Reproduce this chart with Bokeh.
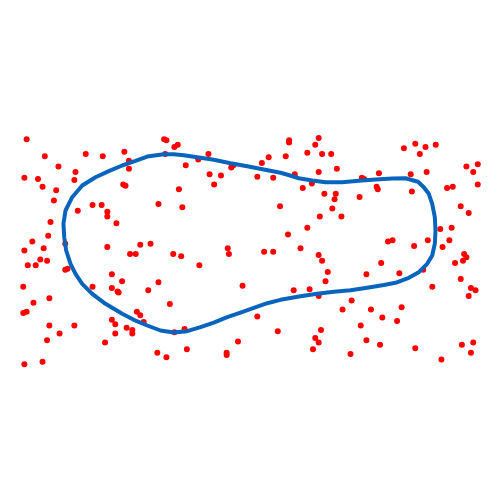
from bokeh.plotting import figure
from bokeh.models import Range1d
from bokeh.embed import file_html
from bokeh.resources import INLINE

pts_x = [-1.97, -1.81, -1.69, -1.45, -1.30, -1.11, -1.07, -1.07, -0.76, -0.74,
         -0.67, -0.64, -0.75, -1.99, -1.87, -1.54, -1.55, -1.83, -1.71, -1.12,
         -1.10, -0.63, -1.73, -1.52, -1.39, -1.31, -1.26, -1.26, -1.18, -0.81,
         -1.76, -1.78, -1.92, -1.99, -1.82, -1.63, -1.26, -0.97, -0.88, -1.06,
         -1.01, -0.68,
         -0.37, -0.46, -0.57, -0.36, -0.26, -0.32, -0.17, -0.15, -0.60, 0.34,
         0.34, 0.60, 0.57, 0.50, 0.63, 0.71, 0.31, 0.16, 0.10, 0.06,
         0.20, 0.39, 0.60, 0.76, 0.46, 0.54, 0.65, 0.75, 0.74, 0.72,
         0.80, 0.61, 0.26, 0.50, 0.33, 0.44, -0.20, -0.19, 0.12, 0.20,
         0.60, -0.61,
         1.45, 1.35, 1.54, 1.63, 1.49, 1.13, 0.98, 1.00, 1.41, 1.55,
         1.90, 2.00, 1.96, 2.00, 1.73, 1.78, 1.11, 1.12, 1.42, 0.96,
         1.85, 1.92, 1.67, 1.77, 1.75, 1.69, 1.56, 1.44, 1.21, 1.25,
         1.88,
         -1.96, -1.89, -1.85, -1.79, -1.63, -1.61, -2.00, -1.77, -1.91, -2.00,
         -1.97, -1.77, -1.68, -1.79, -1.55, -1.99, -1.83, -1.39, -1.22, -1.13,
         -1.22, -1.17, -1.16, -0.90, -0.81, -0.71, -1.00, -0.97, -0.94, -1.22,
         -1.19, -1.09, -1.04, -1.04, -1.19, -1.28, -0.67, -0.82, -0.74,
         -0.45, 0.63, 0.68, 0.66, 0.52, 0.38, 0.60, -0.07, 0.81, 0.06,
         -0.58, -0.56, -0.11, -0.21, -0.21, 0.24, 0.62, 0.57, 0.60, 0.55,
         1.15, 1.02, 1.31, 1.52, 1.60, 1.90, 1.87, 1.80, 1.85, 1.94,
         1.98, 1.92, 0.89, 1.06, 1.33, 1.16, 1.29, 0.97, 1.02, 1.14,
         1.45, 0.88, 1.68, 1.86, 1.96, 1.94]

pts_y = [0.98, 0.83, 0.74, 0.85, 0.83, 0.87, 0.79, 0.72, 0.98, 0.97,
         0.91, 0.93, 0.85, 0.64, 0.63, 0.69, 0.62, 0.56, 0.53, 0.58,
         0.57, 0.54, 0.44, 0.35, 0.40, 0.40, 0.34, 0.30, 0.24, 0.41,
         0.25, 0.13, 0.08, 0.00, 0.02, 0.06, 0.03, 0.05, 0.06, -0.03,
         -0.03, -0.03,
         0.85, 0.80, 0.75, 0.67, 0.66, 0.58, 0.73, 0.75, 0.38, 0.97,
         0.95, 0.99, 0.93, 0.86, 0.85, 0.85, 0.83, 0.82, 0.77, 0.65,
         0.64, 0.67, 0.69, 0.72, 0.55, 0.59, 0.50, 0.50, 0.45, 0.37,
         0.30, 0.30, 0.39, 0.20, 0.14, 0.02, 0.02, -0.03, -0.01, -0.01,
         -0.04, -0.05,
         0.94, 0.90, 0.91, 0.93, 0.85, 0.68, 0.64, 0.63, 0.67, 0.69,
         0.74, 0.76, 0.69, 0.58, 0.55, 0.56, 0.56, 0.54, 0.52, 0.47,
         0.39, 0.33, 0.19, 0.20, 0.09, 0.03, 0.09, 0.04, 0.08, 0.09,
         -0.03,
         -0.13, -0.13, -0.08, -0.09, -0.17, -0.16, -0.32, -0.42, -0.46, -0.55,
         -0.54, -0.66, -0.73, -0.79, -0.66, -1.00, -0.98, -0.32, -0.21, -0.27,
         -0.33, -0.36, -0.37, -0.35, -0.28, -0.47, -0.54, -0.57, -0.63, -0.61,
         -0.65, -0.68, -0.70, -0.73, -0.73, -0.81, -0.72, -0.90, -0.94,
         -0.13, -0.09, -0.19, -0.27, -0.34, -0.35, -0.40, -0.31, -0.52, -0.58,
         -0.69, -0.87, -0.80, -0.90, -0.92, -0.71, -0.70, -0.77, -0.81, -0.87,
         -0.11, -0.21, -0.20, -0.17, -0.32, -0.06, -0.09, -0.11, -0.25, -0.33,
         -0.35, -0.40, -0.44, -0.52, -0.50, -0.59, -0.62, -0.66, -0.79, -0.83,
         -0.86, -0.91, -0.96, -0.83, -0.81, -0.90]

curve_x = [-1.646, -1.628, -1.569, -1.481, -1.364, -1.247, -1.129, -1.012, -0.909, -0.763,
           -0.675, -0.587, -0.469, -0.323, -0.176, -0.029, 0.117, 0.264, 0.334, 0.425,
           0.543, 0.660, 0.807, 0.953, 1.100, 1.247, 1.364, 1.474, 1.525, 1.569,
           1.599, 1.622, 1.628, 1.622, 1.599, 1.555, 1.481, 1.393, 1.276, 1.173,
           1.027, 0.880, 0.733, 0.587, 0.440, 0.264, 0.147, 0.029, -0.088, -0.205,
           -0.323, -0.440, -0.557, -0.675, -0.792, -0.909, -1.027, -1.129, -1.276, -1.393,
           -1.481, -1.540, -1.584, -1.622, -1.639, -1.646]
curve_y = [0.235, 0.352, 0.469, 0.572, 0.645, 0.698, 0.748, 0.788, 0.827, 0.847,
           0.847, 0.839, 0.821, 0.798, 0.768, 0.742, 0.713, 0.684, 0.664, 0.636,
           0.616, 0.601, 0.601, 0.613, 0.625, 0.634, 0.636, 0.605, 0.557, 0.499,
           0.411, 0.293, 0.176, 0.059, -0.044, -0.117, -0.191, -0.240, -0.284, -0.304,
           -0.328, -0.349, -0.363, -0.381, -0.403, -0.434, -0.464, -0.504, -0.546, -0.587,
           -0.634, -0.675, -0.710, -0.722, -0.704, -0.660, -0.610, -0.557, -0.469, -0.381,
           -0.293, -0.205, -0.117, 0.000, 0.117, 0.235]

p = figure(width=500, height=500, output_backend="svg", toolbar_location=None,
           x_range=Range1d(-2.2, 2.2), y_range=Range1d(-2.2, 2.2),
           min_border=0, background_fill_color="white", border_fill_color="white")
p.outline_line_color = None
p.axis.visible = False
p.grid.visible = False

p.scatter(pts_x, pts_y, size=6, fill_color="#ff0000", line_color="#ff0000", line_width=0)
p.line(curve_x, curve_y, line_color="#0864bc", line_width=4, line_join="round", line_cap="round")

open("out.html", "w").write(file_html(p, INLINE))
